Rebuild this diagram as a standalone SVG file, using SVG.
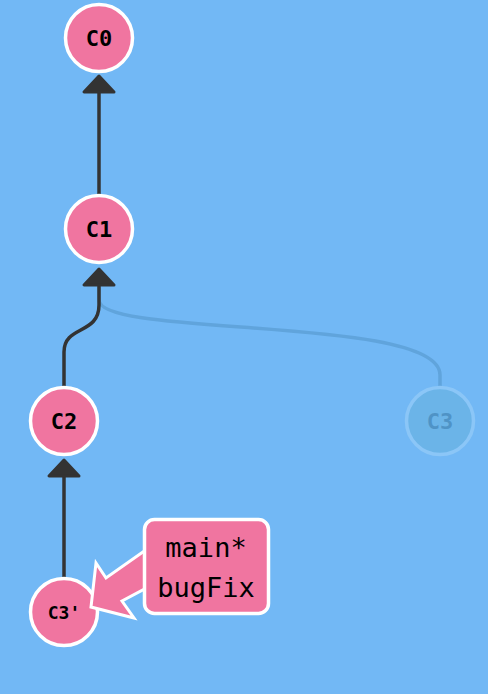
<svg xmlns="http://www.w3.org/2000/svg" width="488" height="694" viewBox="0 0 488 694">
<style>
.node circle{fill:#f075a0;stroke:#fff;stroke-width:3.5}
.node text{font-family:"DejaVu Sans Mono","Liberation Mono",monospace;font-weight:bold;font-size:22px;fill:#000;text-anchor:middle}
.edge{fill:none;stroke:#333;stroke-width:3.5}
.head{fill:#333;stroke:#333;stroke-width:3;stroke-linejoin:round}
.faded{fill:none;stroke:#60a4dc;stroke-width:3.5}
.label text{font-family:"DejaVu Sans Mono","Liberation Mono",monospace;font-size:27px;fill:#000;text-anchor:middle}
</style>
<rect width="488" height="694" fill="#72b8f5"/>
<g id="connectors">
<path class="faded" d="M440,386 L440,375 C440,315 99,338 99,300 L99,287"/>
<path class="edge" d="M99,194 L99,92"/>
<polygon class="head" points="99,76 84,92 114,92"/>
<path class="edge" d="M64,386 L64,352 C64,325 99,335 99,305 L99,285"/>
<polygon class="head" points="99,269 84,285 114,285"/>
<path class="edge" d="M64,577 L64,476"/>
<polygon class="head" points="64,460 49,476 79,476"/>
</g>
<g id="C0" class="node"><circle cx="99" cy="38" r="33.5"/><text x="99" y="46">C0</text></g>
<g id="C1" class="node"><circle cx="99" cy="229" r="33.5"/><text x="99" y="237">C1</text></g>
<g id="C2" class="node"><circle cx="64" cy="421" r="33.5"/><text x="64" y="429">C2</text></g>
<g id="C3" class="node"><circle cx="440" cy="421" r="33.5" style="fill:#6bb4e8;stroke:#8bc6f7"/><text x="440" y="429" style="fill:#4f93c6">C3</text></g>
<g id="C3p" class="node"><circle cx="64" cy="612" r="33.5"/><text x="64" y="619" style="font-size:18px">C3'</text></g>
<g id="label-main-bugFix" class="label">
<polygon points="150,547 106,578 96,563 91,607 134,618 122,601 150,586" fill="#f075a0" stroke="#fff" stroke-width="3" stroke-linejoin="miter"/>
<rect x="144.5" y="519.5" width="124" height="94" rx="10" fill="#f075a0" stroke="#fff" stroke-width="3.5"/>
<text x="206" y="557">main*</text>
<text x="206" y="597">bugFix</text>
</g>
</svg>
